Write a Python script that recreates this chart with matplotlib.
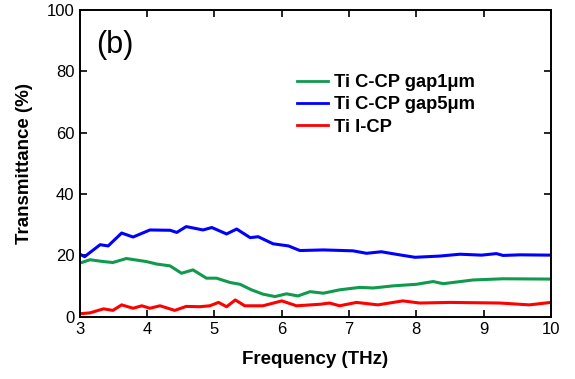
import numpy as np
import matplotlib.pyplot as plt

plt.rcParams['font.family'] = ['Liberation Sans', 'DejaVu Sans']

# Ti C-CP gap1um (green)
freq_g = [3.0, 3.15, 3.35, 3.49, 3.69, 3.99, 4.14, 4.34, 4.51, 4.68, 4.88, 5.03,
          5.23, 5.38, 5.55, 5.72, 5.90, 6.07, 6.24, 6.42, 6.62, 6.86, 7.16, 7.36,
          7.66, 8.00, 8.25, 8.40, 8.84, 9.29, 10.0]
trans_g = [17.5, 18.6, 18.0, 17.7, 19.0, 18.0, 17.2, 16.6, 14.2, 15.3, 12.6, 12.6,
           11.2, 10.6, 8.8, 7.4, 6.6, 7.5, 6.8, 8.2, 7.7, 8.8, 9.6, 9.4,
           10.1, 10.6, 11.5, 10.8, 12.0, 12.4, 12.3]

# Ti C-CP gap5um (blue)
freq_b = [3.0, 3.07, 3.30, 3.42, 3.62, 3.79, 4.04, 4.34, 4.44, 4.58, 4.83, 4.96,
          5.18, 5.33, 5.53, 5.65, 5.87, 6.10, 6.27, 6.62, 7.06, 7.26, 7.48, 7.75,
          7.98, 8.35, 8.65, 8.97, 9.19, 9.29, 9.54, 10.0]
trans_b = [20.4, 19.6, 23.5, 23.1, 27.3, 26.0, 28.3, 28.2, 27.5, 29.4, 28.3, 29.1,
           27.0, 28.6, 25.8, 26.1, 23.8, 23.1, 21.6, 21.8, 21.5, 20.7, 21.2, 20.2,
           19.4, 19.8, 20.4, 20.1, 20.6, 20.0, 20.2, 20.1]

# Ti I-CP (red)
freq_r = [3.0, 3.15, 3.35, 3.49, 3.62, 3.79, 3.92, 4.04, 4.19, 4.41, 4.58, 4.78,
          4.93, 5.06, 5.18, 5.31, 5.45, 5.72, 6.00, 6.22, 6.57, 6.71, 6.86, 7.11,
          7.43, 7.80, 8.05, 8.50, 9.24, 9.68, 10.0]
trans_r = [1.0, 1.3, 2.6, 2.1, 3.9, 2.8, 3.6, 2.8, 3.6, 2.1, 3.4, 3.3,
           3.6, 4.7, 3.3, 5.5, 3.6, 3.6, 5.2, 3.6, 4.1, 4.5, 3.6, 4.7,
           3.9, 5.2, 4.5, 4.7, 4.5, 3.9, 4.7]

labels = ['Ti C-CP gap1\u03bcm', 'Ti C-CP gap5\u03bcm', 'Ti I-CP']
colors = ['#0f9a4e', '#0000ff', '#ff0000']

fig = plt.figure(figsize=(5.75, 3.79), dpi=100)
ax = fig.add_axes([0.139, 0.164, 0.819, 0.810])

ax.plot(freq_g, trans_g, color=colors[0], lw=2.2, label=labels[0])
ax.plot(freq_b, trans_b, color=colors[1], lw=2.2, label=labels[1])
ax.plot(freq_r, trans_r, color=colors[2], lw=2.2, label=labels[2])

ax.set_xlim(3, 10)
ax.set_ylim(0, 100)
ax.set_xticks(range(3, 11))
ax.set_yticks(range(0, 101, 20))
ax.tick_params(direction='in', length=5, width=1.2, top=True, right=True,
               labelsize=12, pad=4)
for s in ax.spines.values():
    s.set_linewidth(1.4)

ax.set_xlabel('Frequency (THz)', fontsize=13.5, fontweight='bold', labelpad=10)
ax.set_ylabel('Transmittance (%)', fontsize=13.5, fontweight='bold', labelpad=10)

ax.text(0.035, 0.935, '(b)', transform=ax.transAxes, fontsize=22, va='top')

leg = ax.legend(loc='upper left', bbox_to_anchor=(0.461, 0.79), frameon=False,
                prop={'weight': 'bold', 'size': 13.2}, handlelength=1.7,
                handletextpad=0.3, labelspacing=0.28, borderaxespad=0,
                borderpad=0)
for h in leg.get_lines():
    h.set_linewidth(2.0)

fig.savefig('out.png', dpi=100)
